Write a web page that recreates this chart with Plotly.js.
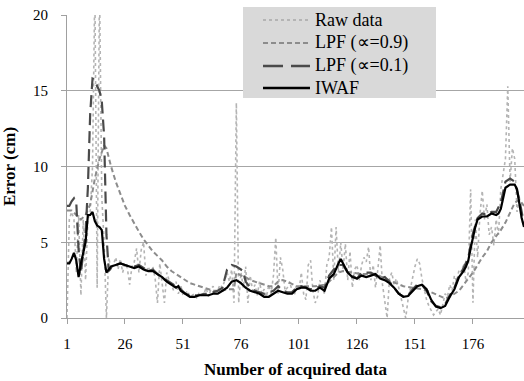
<!DOCTYPE html>
<html>
<head>
<meta charset="utf-8">
<script src="https://cdn.plot.ly/plotly-3.0.1.min.js"></script>
<style>html,body{margin:0;padding:0;background:#fff;}#chart{width:524px;height:381px;}</style>
</head>
<body>
<div id="chart"></div>
<script>
// Raw data, one value per acquired sample (1..198)
var rawY = [
  0, 6.5, 7.0, 6.5, 3.0, 6.8, 1.5, 6.5, 2.5, 6.5,
  7.0, 10.0, 22, 2.0, 22, 8.0, 5.0, 0, 4.0, 3.2,
  3.5, 4.0, 3.2, 3.9, 3.0, 3.6, 3.3, 2.2, 3.4, 3.7,
  4.6, 3.0, 4.5, 5.0, 2.8, 3.4, 3.0, 3.4, 2.6, 1.0,
  3.6, 2.4, 1.0, 3.0, 2.5, 2.2, 1.8, 2.4, 1.6, 2.2,
  1.5, 1.6, 1.8, 1.4, 1.5, 1.6, 1.3, 1.7, 1.5, 1.6,
  2.0, 1.4, 1.9, 2.1, 1.5, 1.8, 2.2, 2.0, 2.5, 3.0,
  2.4, 3.2, 1.0, 14.2, 1.0, 3.0, 2.0, 3.4, 1.0, 2.8,
  1.8, 2.2, 1.5, 2.4, 1.6, 1.9, 1.4, 2.2, 1.6, 2.8,
  5.3, 1.6, 4.0, 3.2, 1.8, 2.0, 2.4, 1.8, 1.5, 2.2,
  1.8, 3.0, 1.6, 1.2, 3.5, 3.8, 1.8, 1.0, 1.4, 2.5,
  2.0, 1.6, 3.5, 4.0, 6.0, 2.5, 6.0, 3.0, 5.0, 3.2,
  4.9, 2.5, 4.4, 2.0, 3.2, 3.5, 2.5, 3.5, 4.0, 3.7,
  4.7, 2.5, 3.5, 2.0, 3.2, 4.8, 2.2, 1.2, 0.0, 2.6,
  3.0, 2.2, 2.6, 2.0, 1.4, 0.8, 0.0, 1.2, 2.0, 2.8,
  3.4, 3.9, 3.6, 2.6, 1.8, 1.2, 0.8, 0.5, 0.2, 0.4,
  0.6, 0.2, 0.8, 1.6, 1.4, 2.2, 1.8, 2.8, 2.4, 3.2,
  3.0, 3.6, 2.4, 3.0, 8.5, 1.0, 6.5, 4.0, 6.8, 8.4,
  6.5, 7.5, 5.5, 6.0, 4.8, 6.5, 5.5, 8.5, 9.5, 10.5,
  15.3, 9.0, 11.2, 10.5, 7.0, 8.0, 6.5, 6.0
];
var rawX = rawY.map(function (v, i) { return i + 1; });

// LPF (alpha = 0.9)
var lpf9X = [1, 3, 5, 7, 9, 11, 13, 15, 17, 18, 20, 22, 24, 26, 28, 30, 32, 34, 36, 38, 40, 42, 44, 46, 48, 50,
  52, 54, 56, 58, 60, 62, 64, 66, 68, 70, 72, 73, 74, 76, 78, 80, 84, 88, 90, 92, 94, 96, 100, 104, 108, 112,
  114, 116, 118, 120, 124, 128, 132, 134, 138, 142, 146, 150, 154, 158, 162, 164, 166, 168, 170, 172, 174,
  176, 178, 180, 182, 184, 186, 188, 190, 192, 194, 196, 198];
var lpf9Y = [7.1, 7.1, 6.8, 6.5, 6.8, 7.5, 9.2, 10.5, 11.4, 11.2, 10.0, 9.0, 8.2, 7.4, 6.8, 6.2, 5.7, 5.2, 4.8, 4.4, 4.1, 3.8, 3.4, 3.1, 2.9, 2.7,
  2.5, 2.3, 2.2, 2.1, 2.0, 1.9, 1.8, 1.8, 1.8, 1.9, 1.9, 1.9, 3.0, 2.8, 2.7, 2.5, 2.3, 2.1, 2.1, 2.4, 2.5, 2.4, 2.1, 2.1, 2.1, 2.2,
  2.4, 2.7, 3.0, 3.1, 3.0, 2.9, 2.9, 2.9, 2.6, 2.35, 2.1, 2.0, 1.9, 1.7, 1.4, 1.3, 1.4, 1.6, 1.8, 2.2, 2.6,
  3.0, 3.5, 4.0, 4.4, 5.0, 5.4, 5.8, 6.3, 7.0, 7.6, 7.8, 7.4];

// LPF (alpha = 0.1)
var lpf1X = [1, 2, 3, 4, 5, 6, 7, 8, 9, 10, 11, 12, 13, 14, 15, 16, 17, 18, 19, 20, 22, 24, 26, 28, 30, 32, 34, 36, 38, 40,
  42, 44, 46, 48, 50, 52, 54, 56, 58, 60, 62, 64, 66, 68, 70, 72, 74, 76, 77, 78, 80, 82, 84, 86, 88, 90, 92, 94,
  96, 98, 100, 102, 104, 106, 108, 110, 112, 114, 116, 118, 120, 122, 124, 126, 128, 130, 132, 134, 136, 138, 140,
  142, 144, 146, 148, 150, 152, 154, 156, 158, 160, 162, 164, 166, 168, 170, 172, 174, 176, 178, 180, 182, 184,
  186, 188, 190, 192, 194, 196, 198];
var lpf1Y = [7.4, 7.4, 7.7, 7.9, 7.6, 4.5, 3.0, 4.5, 5.6, 8.6, 13.5, 15.8, 15.7, 15.3, 15.0, 14.3, 12.0, 5.5, 3.1, 3.3, 3.5, 3.6, 3.5, 3.4, 3.4, 3.5, 3.3, 3.1, 3.2, 2.9,
  2.6, 2.5, 2.3, 2.1, 1.9, 1.6, 1.5, 1.5, 1.5, 1.6, 1.6, 1.7, 1.8, 2.0, 3.2, 3.5, 3.4, 3.2, 3.1, 2.4, 2.0, 1.8, 1.7, 1.6, 1.7, 1.8, 2.1, 1.8,
  1.7, 1.7, 2.0, 2.1, 2.0, 1.9, 1.9, 2.1, 2.0, 2.8, 3.2, 3.5, 3.5, 3.0, 2.8, 2.6, 3.0, 3.0, 3.0, 2.8, 2.6, 2.7, 2.4,
  2.0, 1.6, 1.4, 1.5, 1.9, 2.2, 2.2, 1.8, 1.1, 0.8, 0.7, 0.9, 1.5, 2.0, 2.8, 3.3, 4.0, 5.6, 6.6, 6.9, 6.8, 7.0,
  7.0, 7.6, 9.0, 9.2, 9.0, 7.8, 6.2];

// IWAF
var iwafX = [1, 2, 3, 4, 5, 6, 7, 8, 9, 10, 11, 12, 13, 14, 15, 16, 17, 18, 19, 20, 22, 24, 26, 28, 30, 32, 34, 36, 38, 40,
  42, 44, 46, 48, 49, 50, 52, 54, 56, 58, 60, 62, 64, 66, 68, 70, 72, 74, 76, 78, 80, 82, 84, 86, 88, 90, 92, 94,
  96, 98, 100, 102, 104, 106, 108, 110, 112, 114, 116, 118, 119, 120, 122, 124, 126, 128, 130, 132, 134, 136, 138,
  140, 142, 144, 146, 148, 150, 152, 154, 156, 158, 160, 162, 164, 166, 168, 170, 172, 173, 174, 175, 176, 177, 178,
  180, 182, 184, 186, 187, 188, 189, 190, 192, 194, 195, 196, 197, 198];
var iwafY = [3.6, 3.6, 3.9, 4.3, 3.8, 2.7, 3.6, 4.3, 5.0, 6.8, 6.8, 7.0, 6.4, 6.1, 6.0, 5.8, 3.9, 3.0, 3.2, 3.4, 3.5, 3.6, 3.5, 3.4, 3.3, 3.4, 3.2, 3.1, 3.1, 2.9,
  2.7, 2.4, 2.2, 2.0, 2.1, 1.8, 1.6, 1.4, 1.4, 1.5, 1.5, 1.5, 1.6, 1.6, 1.8, 2.0, 2.4, 2.5, 2.3, 2.0, 1.8, 1.7, 1.6, 1.4, 1.4, 1.6, 1.8, 1.7,
  1.6, 1.6, 1.9, 2.0, 2.0, 1.8, 1.8, 2.0, 1.8, 2.6, 2.9, 3.6, 3.9, 3.6, 3.0, 2.7, 2.6, 2.8, 2.7, 2.8, 2.9, 2.6, 2.5,
  2.3, 2.0, 1.6, 1.4, 1.45, 1.8, 2.1, 2.2, 1.9, 1.2, 0.75, 0.65, 0.8, 1.4, 1.9, 2.7, 3.1, 3.4, 3.8, 4.6, 5.4, 6.0, 6.5,
  6.7, 6.7, 6.9, 6.8, 6.9, 7.2, 8.0, 8.6, 8.8, 8.8, 8.5, 7.6, 6.6, 6.0];

var xTickVals = [1, 26, 51, 76, 101, 126, 151, 176];
var yTickVals = [0, 5, 10, 15, 20];
var seriesNames = ['Raw data', 'LPF (\u221D=0.9)', 'LPF (\u221D=0.1)', 'IWAF'];

var serif = 'Liberation Serif, serif';

var styles = [
  { color: '#b4b4b4', width: 1.6, dash: 'dot' },
  { color: '#8c8c8c', width: 2, dash: '5px,3px' },
  { color: '#4a4a4a', width: 2.2, dash: '12px,6px' },
  { color: '#000000', width: 2.2, dash: 'solid' }
];
var xs = [rawX, lpf9X, lpf1X, iwafX];
var ys = [rawY, lpf9Y, lpf1Y, iwafY];

var traces = seriesNames.map(function (name, k) {
  return { x: xs[k], y: ys[k], name: name, mode: 'lines', line: styles[k], showlegend: false };
});

// Legend box (drawn as a panel in paper coordinates)
var boxX0 = 0.3851, boxX1 = 0.8074, boxY0 = 0.7261, boxY1 = 1.0264;
var rowY = [0.9835, 0.9076, 0.8317, 0.7591];
var sampleX0 = 0.4289, sampleX1 = 0.5317, textX = 0.5383;

var shapes = [{
  type: 'rect', xref: 'paper', yref: 'paper', x0: boxX0, x1: boxX1, y0: boxY0, y1: boxY1,
  fillcolor: '#d9d9d9', line: { width: 0 }, layer: 'above'
}];
var annotations = [];
seriesNames.forEach(function (name, k) {
  shapes.push({
    type: 'line', xref: 'paper', yref: 'paper', x0: sampleX0, x1: sampleX1, y0: rowY[k], y1: rowY[k],
    line: { color: styles[k].color, width: styles[k].width + 0.2, dash: k === 2 ? '20px,8px' : styles[k].dash }, layer: 'above'
  });
  annotations.push({
    xref: 'paper', yref: 'paper', x: textX, y: rowY[k], xanchor: 'left', yanchor: 'middle',
    text: name, showarrow: false, font: { family: serif, size: 18, color: '#000' }
  });
});

var layout = {
  width: 524, height: 381,
  margin: { l: 67, r: 0, t: 15, b: 63 },
  paper_bgcolor: '#ffffff', plot_bgcolor: '#ffffff',
  font: { family: serif, size: 15, color: '#000' },
  showlegend: false,
  shapes: shapes,
  annotations: annotations,
  xaxis: {
    range: [1, 198], tickmode: 'array', tickvals: xTickVals,
    ticks: 'outside', ticklen: 5, tickcolor: '#a0a0a0',
    showline: true, linecolor: '#a0a0a0', linewidth: 1,
    showgrid: false, zeroline: false,
    ticklabelstandoff: 7,
    tickfont: { family: serif, size: 15, color: '#000' },
    title: { text: '<b>Number of acquired data</b>', font: { family: serif, size: 17, color: '#000' }, standoff: 12 }
  },
  yaxis: {
    range: [0, 20], tickmode: 'array', tickvals: yTickVals,
    ticks: 'outside', ticklen: 5, tickcolor: '#a0a0a0',
    showline: true, linecolor: '#a0a0a0', linewidth: 1,
    showgrid: true, gridcolor: '#a6a6a6', gridwidth: 1, zeroline: false,
    ticklabelstandoff: 10,
    tickfont: { family: serif, size: 15, color: '#000' },
    title: { text: '<b>Error (cm)</b>', font: { family: serif, size: 17, color: '#000' }, standoff: 14 }
  }
};

Plotly.newPlot('chart', traces, layout, { displayModeBar: false, staticPlot: true });
</script>
</body>
</html>
